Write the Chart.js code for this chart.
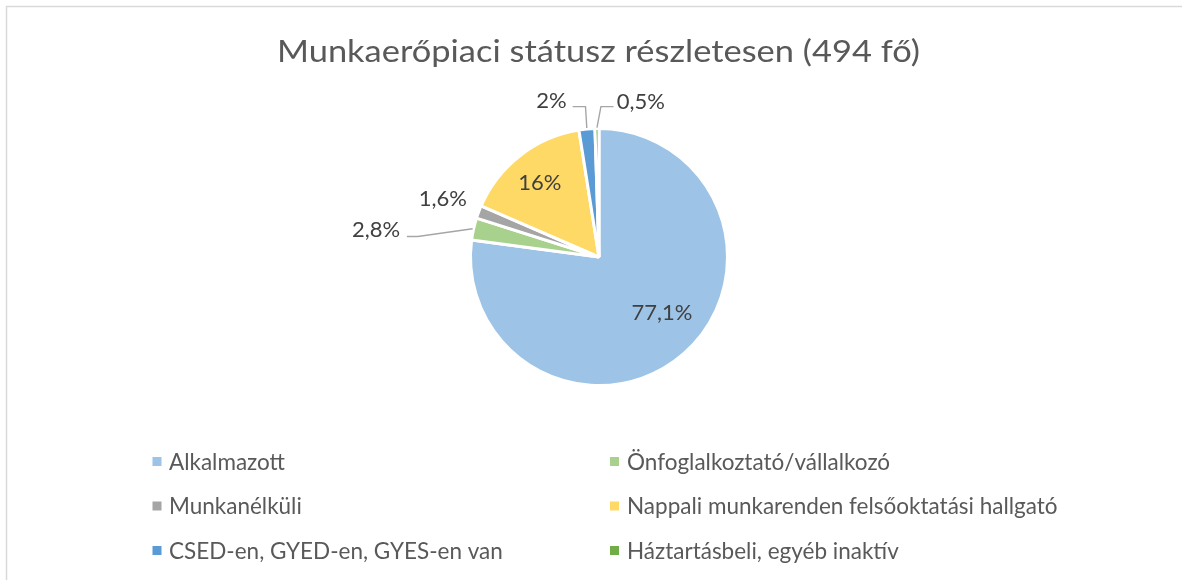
<!DOCTYPE html>
<html><head><meta charset="utf-8">
<script src="https://cdn.jsdelivr.net/npm/chart.js@4/dist/chart.umd.min.js"></script>
<style>html,body{margin:0;padding:0;background:#fff;overflow:hidden}#wrap{position:relative;width:1182px;height:580px}</style>
</head><body><div id="wrap"><canvas id="c" width="1182" height="580"></canvas></div>
<script>
const chartTitle = 'Munkaerőpiaci státusz részletesen (494 fő)';
const categories = ['Alkalmazott', 'Önfoglalkoztató/vállalkozó', 'Munkanélküli', 'Nappali munkarenden felsőoktatási hallgató', 'CSED-en, GYED-en, GYES-en van', 'Háztartásbeli, egyéb inaktív'];
const values = [77.1, 2.8, 1.6, 16, 2, 0.5];
const valueLabels = ['77,1%', '2,8%', '1,6%', '16%', '2%', '0,5%'];
const colors = ['#9DC3E6', '#A9D18E', '#A5A5A5', '#FFD966', '#5B9BD5', '#70AD47'];

// label placement (in units of pie radius, relative to pie centre) and leader lines
const labelPlacement = [
  {dx: 0.49, dy: 0.435},
  {dx: -1.735, dy: -0.21, leader: [[-1.495, -0.16], [-1.41, -0.16]]},
  {dx: -1.215, dy: -0.45},
  {dx: -0.46, dy: -0.575},
  {dx: -0.37, dy: -1.215, leader: [[-0.205, -1.17], [-0.105, -1.17]]},
  {dx: 0.325, dy: -1.205, leader: [[0.113, -1.17], [0.015, -1.17]]}
];

const FONT = 'Lato, "Open Sans", sans-serif';

const decor = {
  id: 'decor',
  beforeDraw(chart) {
    const ctx = chart.ctx;
    ctx.save();
    ctx.fillStyle = '#fff';
    ctx.fillRect(0, 0, chart.width, chart.height);
    ctx.strokeStyle = '#D9D9D9';
    ctx.lineWidth = 1.5;
    ctx.strokeRect(6.5, 6.5, 1300, 700);
    // title
    ctx.fillStyle = '#595959';
    ctx.font = '31px ' + FONT;
    ctx.textBaseline = 'alphabetic';
    ctx.textAlign = 'center';
    const w = ctx.measureText(chartTitle).width;
    const target = 643;
    ctx.translate(598.5, 62);
    ctx.scale(target / w, 1);
    ctx.fillText(chartTitle, 0, 0);
    ctx.restore();
    // legend
    ctx.save();
    ctx.font = '22.5px ' + FONT;
    ctx.textBaseline = 'middle';
    ctx.textAlign = 'left';
    categories.forEach((c, i) => {
      const col = i % 2, row = Math.floor(i / 2);
      const mx = col === 0 ? 152.5 : 610;
      const tx = col === 0 ? 169 : 627;
      const y = 461.5 + row * 44.5;
      ctx.fillStyle = colors[i];
      ctx.fillRect(mx, y - 4.5, 9, 9);
      ctx.fillStyle = '#595959';
      ctx.fillText(c, tx, y + 1);
    });
    ctx.restore();
  },
  afterDatasetsDraw(chart) {
    const ctx = chart.ctx;
    const meta = chart.getDatasetMeta(0);
    ctx.save();
    ctx.font = '22px ' + FONT;
    ctx.textAlign = 'center';
    ctx.textBaseline = 'middle';
    meta.data.forEach((arc, i) => {
      const p = arc.getProps(['x', 'y', 'startAngle', 'endAngle', 'outerRadius'], true);
      const R = p.outerRadius;
      const pl = labelPlacement[i];
      if (pl.leader) {
        const mid = (p.startAngle + p.endAngle) / 2;
        ctx.strokeStyle = '#A6A6A6';
        ctx.lineWidth = 1.4;
        ctx.beginPath();
        ctx.moveTo(p.x + pl.leader[0][0] * R, p.y + pl.leader[0][1] * R);
        ctx.lineTo(p.x + pl.leader[1][0] * R, p.y + pl.leader[1][1] * R);
        ctx.lineTo(p.x + Math.cos(mid) * (R + 1), p.y + Math.sin(mid) * (R + 1));
        ctx.stroke();
      }
      ctx.fillStyle = '#404040';
      ctx.fillText(valueLabels[i], p.x + pl.dx * R, p.y + pl.dy * R);
    });
    ctx.restore();
  }
};

new Chart(document.getElementById('c'), {
  type: 'pie',
  data: {
    labels: categories,
    datasets: [{
      data: values,
      backgroundColor: colors,
      borderColor: '#ffffff',
      borderWidth: 3
    }]
  },
  options: {
    responsive: false,
    animation: false,
    devicePixelRatio: 1,
    layout: {padding: {top: 127, bottom: 193, left: 299, right: 283}},
    plugins: {legend: {display: false}, title: {display: false}, tooltip: {enabled: false}}
  },
  plugins: [decor]
});
</script>
</body></html>
